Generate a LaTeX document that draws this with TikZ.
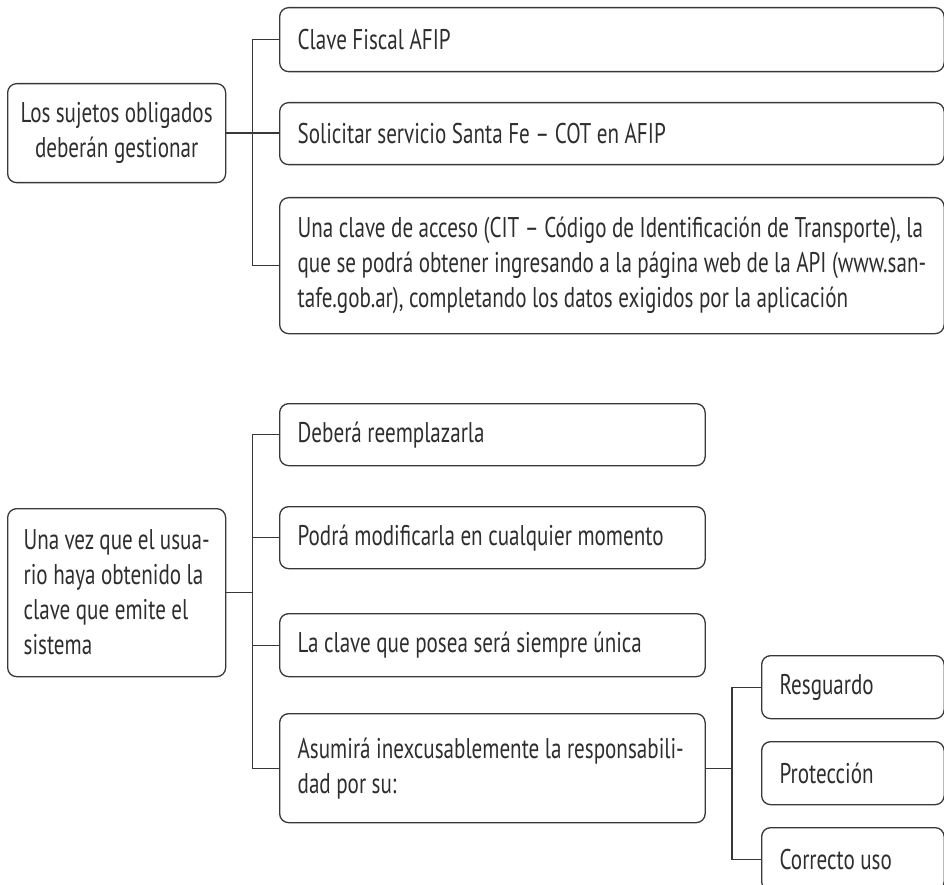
\documentclass[tikz,border=0pt]{standalone}
\usepackage{fontspec}
\setmainfont{PT Sans}[FakeStretch=0.74]
\colorlet{lnx}{black!78}
\colorlet{txx}{black!82}
\newcommand\blancos{\spaceskip=5.5pt plus 1pt minus 1pt\xspaceskip=5.5pt\relax}
\tikzset{
    caja/.style={draw=lnx,line width=1.3pt,rounded corners=9pt,text=txx,anchor=north west,
        inner xsep=18pt,inner ysep=0pt,font=\fontsize{28.5}{35}\selectfont,
        execute at begin node=\blancos},
    raiz/.style={caja,inner xsep=13pt,text width=192pt,align=center},
    raizl/.style={caja,inner xsep=16pt,text width=186pt,align=left},
    hoja/.style={caja,text width=628.5pt,align=left},
    hojac/.style={caja,text width=389.5pt,align=left},
    hojar/.style={caja,text width=146.5pt,align=left},
    rama/.style={lnx,line width=1.3pt}
}
\begin{document}
\begin{tikzpicture}[x=1pt,y=-1pt]
    \useasboundingbox (0,0) rectangle (944,885);
    % primer bloque
    \node [raiz,minimum height=99pt] (l1) at (7,83) {Los sujetos obligados\\deberán gestionar};
    \node [hoja,minimum height=64pt] (b1) at (279,7) {Clave Fiscal AFIP};
    \node [hoja,minimum height=62pt] (b2) at (279,102) {Solicitar servicio Santa Fe – COT en AFIP};
    \node [hoja,minimum height=136pt] (b3) at (279,197) {Una clave de acceso (CIT – Código de Identificación de Transporte), la\\
        que se podrá obtener ingresando a la página web de la API (www.san-\\
        tafe.gob.ar), completando los datos exigidos por la aplicación};
    \coordinate (tr1) at (252.5,0);
    \draw [rama] (l1.east) -- (l1.east -| b2.west);
    \draw [rama] (b1.west) -- (b1.west -| tr1) |- (b3.west);
    % segundo bloque
    \node [raizl,minimum height=168pt] (l2) at (7,508) {Una vez que el usua-\\rio haya obtenido la\\clave que emite el\\sistema};
    \node [hojac,minimum height=62pt] (d1) at (279,403) {Deberá reemplazarla};
    \node [hojac,minimum height=62pt] (d2) at (279,506) {Podrá modificarla en cualquier momento};
    \node [hojac,minimum height=63pt] (d3) at (279,613) {La clave que posea será siempre única};
    \node [hojac,minimum height=109pt] (d4) at (279,713) {Asumirá inexcusablemente la responsabili-\\dad por su:};
    \node [hojar,minimum height=63pt] (r1) at (761,655) {Resguardo};
    \node [hojar,minimum height=63pt] (r2) at (761,741) {Protección};
    \node [hojar,minimum height=63pt] (r3) at (761,827) {Correcto uso};
    \coordinate (tr2) at (252.5,0);
    \coordinate (tr3) at (732,0);
    \draw [rama] (l2.east) -- (l2.east -| tr2);
    \draw [rama] (d1.west) -- (d1.west -| tr2) |- (d4.west);
    \foreach \n in {d2,d3} {
        \draw [rama] (\n.west) -- (\n.west -| tr2);
    }
    \draw [rama] (d4.east) -- (d4.east -| tr3);
    \draw [rama] (r1.west) -- (r1.west -| tr3) |- (r3.west);
\end{tikzpicture}
\end{document}
